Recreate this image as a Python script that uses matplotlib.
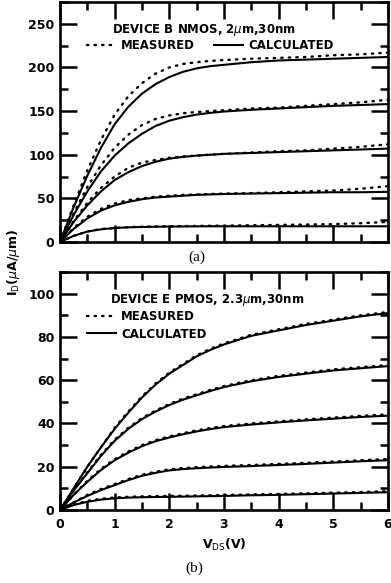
import matplotlib
matplotlib.use('Agg')
import matplotlib.pyplot as plt
from matplotlib.ticker import MultipleLocator

# 漏极电压网格 (V)
vds = [0, 0.25, 0.5, 0.75, 1.0, 1.25, 1.5, 1.75, 2.0, 2.25, 2.5, 2.75, 3.0, 3.5, 4.0, 4.5, 5.0, 5.5, 6.0]

# (a) NMOS 器件 B, uA/um
nmos_calc = [
    [0, 40, 76, 108, 135, 155, 170, 181, 189, 195, 199, 201.5, 203, 206, 208, 209, 210, 211, 212],
    [0, 31, 58, 81, 99, 113, 124, 133, 139, 143, 146, 148, 149.5, 151.5, 153, 154.5, 156, 157, 158],
    [0, 23, 42, 58, 71, 80, 87, 92, 95.5, 97.5, 99, 100, 101, 102, 103, 104, 105, 106, 107],
    [0, 15, 27, 36, 42, 46, 49, 51, 52, 53, 54, 54.5, 55, 55.5, 56, 56.5, 57, 57, 57.5],
    [0, 7, 12, 14.5, 16, 16.8, 17.2, 17.5, 17.7, 17.8, 17.9, 18, 18, 18, 18, 18, 18, 18, 18],
]
nmos_meas = [
    [0, 42, 82, 117, 146, 167, 182, 193, 200, 204, 206, 207.5, 208.5, 210, 211, 212, 214, 215, 217],
    [0, 33, 63, 88, 108, 123, 134, 141, 145, 147.5, 149, 150, 151, 153, 154, 156, 158, 160, 163],
    [0, 24, 45, 62, 75, 85, 91, 94, 96.5, 98, 99, 100, 101, 102.5, 104, 105, 107, 109, 112],
    [0, 16, 29, 38, 44, 48, 50, 52, 53, 54, 54.5, 55, 55.5, 56, 57, 58, 59, 61, 64],
    [0, 7, 12, 15, 16, 17, 17.5, 17.8, 18, 18.2, 18.4, 18.6, 18.8, 19.2, 19.6, 20, 20.5, 21.5, 23],
]

# (b) PMOS 器件 E, uA/um
pmos_calc = [
    [0, 10, 20, 29, 37.5, 45, 52, 58, 63, 67, 71, 74, 76.5, 80.5, 83, 85.5, 87.5, 89.5, 91],
    [0, 9, 17, 25, 32, 37.5, 42, 45.5, 48.5, 51, 53, 55, 56.8, 59.5, 61.5, 63, 64.5, 65.5, 66.5],
    [0, 7, 13, 18.5, 23, 26.5, 29.5, 31.8, 33.5, 35, 36.3, 37.4, 38.3, 39.5, 40.5, 41.4, 42.2, 43, 43.6],
    [0, 3.5, 6.5, 9.2, 11.5, 13.8, 15.8, 17.2, 18.3, 18.9, 19.3, 19.6, 19.9, 20.3, 20.8, 21.3, 21.9, 22.5, 23],
    [0, 2.3, 3.8, 4.8, 5.4, 5.7, 5.9, 6.0, 6.1, 6.2, 6.3, 6.4, 6.5, 6.8, 7.0, 7.3, 7.6, 7.9, 8.2],
]
pmos_meas = [
    [0, 10, 20, 29, 38, 45.5, 52.5, 58.5, 63.5, 67.5, 71.5, 74.5, 77, 81, 83.5, 86, 88, 90, 91.5],
    [0, 9, 17.5, 25.5, 32.5, 38, 42.5, 46, 49, 51.5, 53.5, 55.5, 57.3, 60, 62, 63.5, 65, 66, 67],
    [0, 7, 13.5, 19, 23.5, 27, 30, 32.3, 34, 35.5, 36.8, 37.9, 38.8, 40, 41, 41.9, 42.7, 43.5, 44.2],
    [0, 3.5, 7, 9.7, 12, 14.3, 16.3, 17.7, 18.8, 19.4, 19.8, 20.1, 20.4, 20.8, 21.3, 21.8, 22.4, 23, 23.6],
    [0, 2.5, 4.2, 5.2, 5.8, 6.1, 6.3, 6.4, 6.5, 6.6, 6.7, 6.8, 6.9, 7.2, 7.4, 7.7, 8.0, 8.3, 8.7],
]

plt.rcParams['font.family'] = ['DejaVu Sans']
plt.rcParams['mathtext.fontset'] = 'dejavusans'
FS = 8.5
dots = (0, (0.6, 2.6))

fig = plt.figure(figsize=(3.91, 5.83), dpi=100)
ax1 = fig.add_axes([60 / 391, 1 - 242 / 583, 328 / 391, 240 / 583])
ax2 = fig.add_axes([60 / 391, 1 - 510 / 583, 328 / 391, 238 / 583])


def style_axes(ax, ymax, ymaj, ymin):
    ax.set_xlim(0, 6)
    ax.set_ylim(0, ymax)
    ax.xaxis.set_major_locator(MultipleLocator(1))
    ax.xaxis.set_minor_locator(MultipleLocator(0.5))
    ax.yaxis.set_major_locator(MultipleLocator(ymaj))
    ax.yaxis.set_minor_locator(MultipleLocator(ymin))
    ax.tick_params(which='both', direction='in', top=True, right=True, width=1.8,
                   labelsize=FS + 0.5, pad=4)
    ax.tick_params(which='major', length=12)
    ax.tick_params(which='minor', length=5.8)
    for s in ax.spines.values():
        s.set_linewidth(1.9)
    for lab in ax.get_xticklabels() + ax.get_yticklabels():
        lab.set_fontweight('bold')


for ys in nmos_meas:
    ax1.plot(vds, ys, color='black', lw=1.7, linestyle=dots, dash_capstyle='round')
for ys in nmos_calc:
    ax1.plot(vds, ys, color='black', lw=1.5)
for ys in pmos_meas:
    ax2.plot(vds, ys, color='black', lw=1.7, linestyle=dots, dash_capstyle='round')
for ys in pmos_calc:
    ax2.plot(vds, ys, color='black', lw=1.5)

style_axes(ax1, 275, 50, 25)
style_axes(ax2, 110, 20, 10)
ax1.tick_params(labelbottom=False)
ax2.xaxis.set_tick_params(pad=6)

# 图例
h_meas = plt.Line2D([], [], color='black', lw=1.7, linestyle=dots, dash_capstyle='round')
h_calc = plt.Line2D([], [], color='black', lw=1.5)

ax1.text(0.1585, 0.883, r'DEVICE B NMOS, 2$\mu$m,30nm', transform=ax1.transAxes,
         fontsize=FS, fontweight='bold', va='center', ha='left')
ax1.legend([h_meas, h_calc], ['MEASURED', 'CALCULATED'], ncol=2, frameon=False,
           loc='center left', bbox_to_anchor=(0.082, 0.817), borderpad=0, borderaxespad=0,
           handlelength=2.5, handletextpad=0.4, columnspacing=1.6,
           prop={'size': FS, 'weight': 'bold'})

ax2.text(0.152, 0.882, r'DEVICE E PMOS, 2.3$\mu$m,30nm', transform=ax2.transAxes,
         fontsize=FS, fontweight='bold', va='center', ha='left')
ax2.legend([h_meas, h_calc], ['MEASURED', 'CALCULATED'], ncol=1, frameon=False,
           loc='center left', bbox_to_anchor=(0.082, 0.775), borderpad=0, borderaxespad=0,
           handlelength=2.5, handletextpad=0.4, labelspacing=0.35,
           prop={'size': FS, 'weight': 'bold'})

ax2.set_xlabel(r'V$_{\rm DS}$(V)', fontsize=FS + 0.5, fontweight='bold', labelpad=4)
fig.text(13 / 391, 1 - 262 / 583, r'I$_{\rm D}$($\mu$A/$\mu$m)', rotation=90,
         fontsize=FS + 0.5, fontweight='bold', ha='center', va='center')
fig.text(197 / 391, 1 - 257 / 583, '(a)', fontsize=11, family='Liberation Serif',
         ha='center', va='center')
fig.text(194 / 391, 1 - 568 / 583, '(b)', fontsize=11, family='Liberation Serif',
         ha='center', va='center')

fig.savefig('out.png', dpi=100)
